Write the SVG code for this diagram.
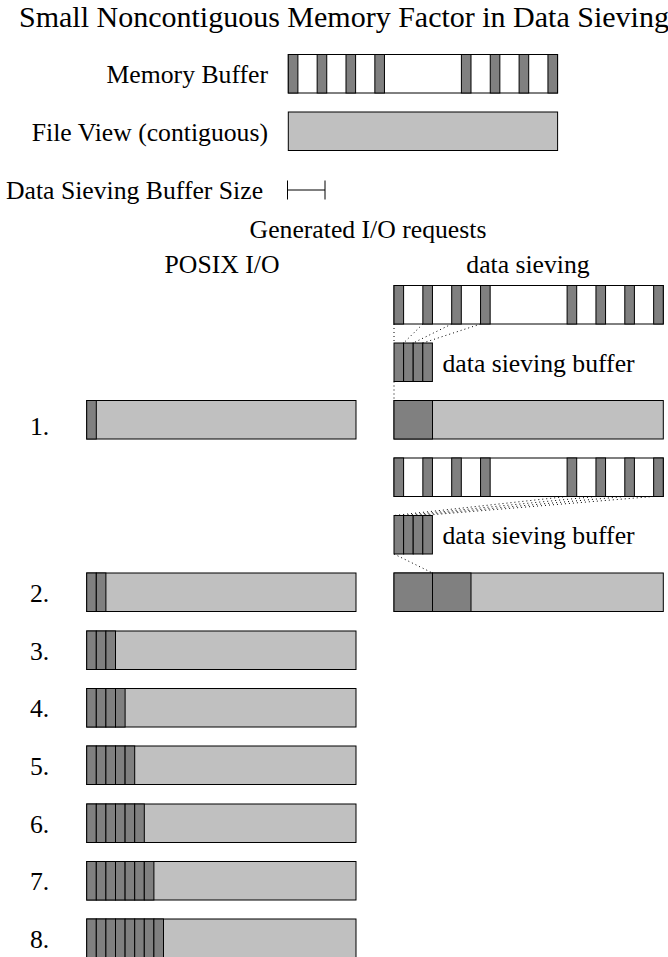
<svg xmlns="http://www.w3.org/2000/svg" width="668" height="957" viewBox="0 0 668 957">
<style>
text{font-family:"Liberation Serif","Times New Roman",serif;fill:#000}
.t{font-size:30px}
.l{font-size:25.7px}
.w{fill:#fff;stroke:#000;stroke-width:1}
.g{fill:#c0c0c0;stroke:#000;stroke-width:1}
.d{fill:#808080;stroke:#000;stroke-width:1}
.dot{fill:none;stroke:#000;stroke-width:1;stroke-dasharray:1 3}
.ln{fill:none;stroke:#000;stroke-width:1}
</style>
<defs>
<g id="membuf">
<rect class="w" x="0" y="0" width="269.3" height="38.5"/>
<rect class="d" x="0" y="0" width="9.6" height="38.5"/>
<rect class="d" x="28.85" y="0" width="9.6" height="38.5"/>
<rect class="d" x="57.7" y="0" width="9.6" height="38.5"/>
<rect class="d" x="86.55" y="0" width="9.6" height="38.5"/>
<rect class="d" x="173.1" y="0" width="9.6" height="38.5"/>
<rect class="d" x="201.95" y="0" width="9.6" height="38.5"/>
<rect class="d" x="230.8" y="0" width="9.6" height="38.5"/>
<rect class="d" x="259.65" y="0" width="9.6" height="38.5"/>
</g>
<g id="sbuf">
<rect class="d" x="0" y="0" width="9.6" height="38.5"/>
<rect class="d" x="9.6" y="0" width="9.6" height="38.5"/>
<rect class="d" x="19.2" y="0" width="9.6" height="38.5"/>
<rect class="d" x="28.8" y="0" width="9.6" height="38.5"/>
</g>
<rect id="file" class="g" x="0" y="0" width="269.3" height="38.5"/>
<rect id="pc" class="d" x="0" y="0" width="9.6" height="38.5"/>
</defs>

<text class="t" x="19" y="27">Small Noncontiguous Memory Factor in Data Sieving</text>

<g id="memory-buffer">
<text class="l" x="268" y="83" text-anchor="end">Memory Buffer</text>
<use href="#membuf" x="288.3" y="54.5"/>
</g>
<g id="file-view">
<text class="l" x="268" y="140.5" text-anchor="end">File View (contiguous)</text>
<use href="#file" x="288.3" y="112"/>
</g>
<g id="buffer-size">
<text class="l" x="6" y="198.5">Data Sieving Buffer Size</text>
<line class="ln" x1="287.5" y1="190" x2="325" y2="190"/>
<line class="ln" x1="287.5" y1="180.5" x2="287.5" y2="199.5"/>
<line class="ln" x1="325" y1="180.5" x2="325" y2="199.5"/>
</g>
<g id="headers">
<text class="l" x="368" y="238" text-anchor="middle">Generated I/O requests</text>
<text class="l" x="222" y="273" text-anchor="middle">POSIX I/O</text>
<text class="l" x="528" y="273" text-anchor="middle">data sieving</text>
</g>

<g id="ds-mem-1"><use href="#membuf" x="394" y="285.5"/></g>
<g id="ds-buf-1">
<use href="#sbuf" x="394" y="343"/>
<text class="l" x="442.5" y="371.5">data sieving buffer</text>
</g>
<g id="ds-file-1">
<use href="#file" x="394" y="400.5"/>
<rect class="d" x="394" y="400.5" width="38.5" height="38.5"/>
</g>
<g id="ds-mem-2"><use href="#membuf" x="394" y="458"/></g>
<g id="ds-buf-2">
<use href="#sbuf" x="394" y="515.5"/>
<text class="l" x="442.5" y="544">data sieving buffer</text>
</g>
<g id="ds-file-2">
<use href="#file" x="394" y="573"/>
<rect class="d" x="394" y="573" width="38.5" height="38.5"/>
<rect class="d" x="432.5" y="573" width="38.5" height="38.5"/>
</g>

<g id="posix-1">
<text class="l" x="30" y="435">1.</text>
<use href="#file" x="86.7" y="400.5"/>
<use href="#pc" x="86.7" y="400.5"/>
</g>
<g id="posix-2">
<text class="l" x="30" y="601.5">2.</text>
<use href="#file" x="86.7" y="573"/>
<use href="#pc" x="86.7" y="573"/><use href="#pc" x="96.3" y="573"/>
</g>
<g id="posix-3">
<text class="l" x="30" y="659.5">3.</text>
<use href="#file" x="86.7" y="631"/>
<use href="#pc" x="86.7" y="631"/><use href="#pc" x="96.3" y="631"/><use href="#pc" x="105.9" y="631"/>
</g>
<g id="posix-4">
<text class="l" x="30" y="717">4.</text>
<use href="#file" x="86.7" y="688.5"/>
<use href="#pc" x="86.7" y="688.5"/><use href="#pc" x="96.3" y="688.5"/><use href="#pc" x="105.9" y="688.5"/><use href="#pc" x="115.5" y="688.5"/>
</g>
<g id="posix-5">
<text class="l" x="30" y="774.5">5.</text>
<use href="#file" x="86.7" y="746"/>
<use href="#pc" x="86.7" y="746"/><use href="#pc" x="96.3" y="746"/><use href="#pc" x="105.9" y="746"/><use href="#pc" x="115.5" y="746"/><use href="#pc" x="125.1" y="746"/>
</g>
<g id="posix-6">
<text class="l" x="30" y="832.5">6.</text>
<use href="#file" x="86.7" y="804"/>
<use href="#pc" x="86.7" y="804"/><use href="#pc" x="96.3" y="804"/><use href="#pc" x="105.9" y="804"/><use href="#pc" x="115.5" y="804"/><use href="#pc" x="125.1" y="804"/><use href="#pc" x="134.7" y="804"/>
</g>
<g id="posix-7">
<text class="l" x="30" y="890">7.</text>
<use href="#file" x="86.7" y="861.5"/>
<use href="#pc" x="86.7" y="861.5"/><use href="#pc" x="96.3" y="861.5"/><use href="#pc" x="105.9" y="861.5"/><use href="#pc" x="115.5" y="861.5"/><use href="#pc" x="125.1" y="861.5"/><use href="#pc" x="134.7" y="861.5"/><use href="#pc" x="144.3" y="861.5"/>
</g>
<g id="posix-8">
<text class="l" x="30" y="947.5">8.</text>
<use href="#file" x="86.7" y="919"/>
<use href="#pc" x="86.7" y="919"/><use href="#pc" x="96.3" y="919"/><use href="#pc" x="105.9" y="919"/><use href="#pc" x="115.5" y="919"/><use href="#pc" x="125.1" y="919"/><use href="#pc" x="134.7" y="919"/><use href="#pc" x="144.3" y="919"/><use href="#pc" x="153.9" y="919"/>
</g>

<g id="connectors">
<line class="dot" x1="394" y1="324" x2="394" y2="343"/>
<line class="dot" x1="422.85" y1="324" x2="403.6" y2="343"/>
<line class="dot" x1="451.7" y1="324" x2="413.2" y2="343"/>
<line class="dot" x1="480.55" y1="324" x2="422.8" y2="343"/>
<line class="dot" x1="394" y1="381.5" x2="394" y2="400.5"/>
<line class="dot" x1="567.1" y1="496.5" x2="394" y2="515.5"/>
<line class="dot" x1="595.95" y1="496.5" x2="403.6" y2="515.5"/>
<line class="dot" x1="624.8" y1="496.5" x2="413.2" y2="515.5"/>
<line class="dot" x1="653.65" y1="496.5" x2="422.8" y2="515.5"/>
<line class="dot" x1="394" y1="554" x2="432.5" y2="573"/>
</g>
</svg>
